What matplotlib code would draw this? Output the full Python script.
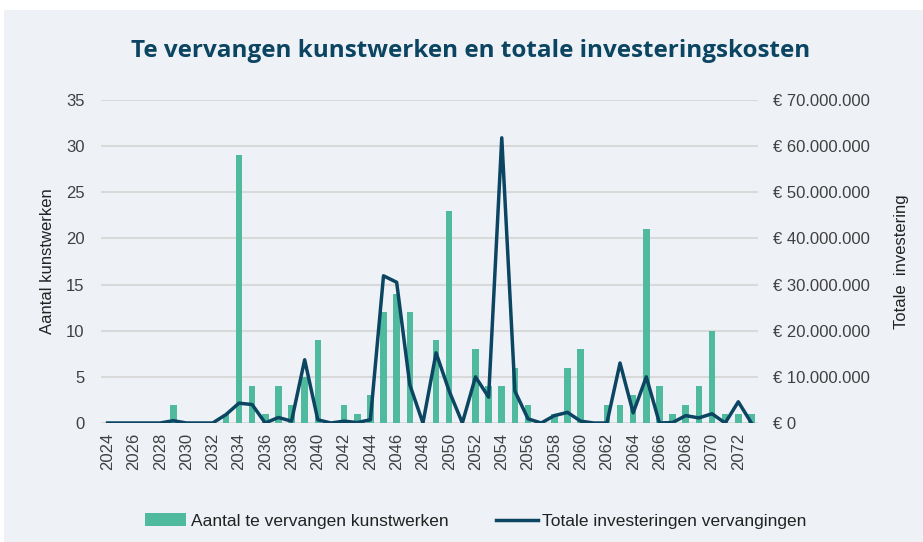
import matplotlib
matplotlib.use("Agg")
import matplotlib.pyplot as plt
from matplotlib.patches import Rectangle
from matplotlib.ticker import FuncFormatter, MultipleLocator

years = list(range(2024, 2074))
aantal = [0, 0, 0, 0, 0, 2, 0, 0, 0, 1,
          29, 4, 1, 4, 2, 5, 9, 0, 2, 1,
          3, 12, 14, 12, 0, 9, 23, 0, 8, 4,
          4, 6, 2, 0, 1, 6, 8, 0, 2, 2,
          3, 21, 4, 1, 2, 4, 10, 1, 1, 1]
investering = [0, 0, 0, 0, 0, 0.5, 0, 0, 0, 1.8,
               4.3, 4.0, 0, 1.2, 0.4, 13.7, 0.7, 0, 0.4, 0.1,
               0.7, 31.9, 30.5, 8.3, 0, 15.2, 6.9, 0, 10.0, 5.6,
               61.8, 6.9, 0.9, 0, 1.6, 2.3, 0.4, 0, 0, 13.0,
               2.2, 10.0, 0, 0.1, 1.6, 1.1, 2.0, 0, 4.6, 0]
investering = [v * 1e6 for v in investering]

title = "Te vervangen kunstwerken en totale investeringskosten"
label_bar = "Aantal te vervangen kunstwerken"
label_line = "Totale investeringen vervangingen"

BG = "#EEF2F7"
BAR = "#4FBA9E"
LINE = "#0B4562"
TXT = "#404040"
GRID = "#D9D9D9"

plt.rcParams['font.family'] = ['Liberation Sans', 'DejaVu Sans']

fig = plt.figure(figsize=(9.23, 5.42), dpi=100)
fig.patch.set_facecolor("white")
fig.patches.append(Rectangle((4 / 923, 0), 1, 1 - 10 / 542, transform=fig.transFigure,
                             facecolor=BG, edgecolor="none", zorder=-10))

ax = fig.add_axes([101 / 923, 1 - 423 / 542, 657 / 923, 323 / 542])
ax.set_facecolor("none")
x = list(range(len(years)))
ax.bar(x, aantal, width=0.5, color=BAR, zorder=2, label=label_bar)
ax.set_ylim(0, 35)
ax.set_xlim(-0.5, len(years) - 0.5)
ax.yaxis.set_major_locator(MultipleLocator(5))
ax.grid(axis="y", color=GRID, linewidth=1.5, zorder=0)
ax.set_axisbelow(True)
for s in ax.spines.values():
    s.set_visible(False)
ax.set_xticks(x[::2])
ax.set_xticklabels([str(y) for y in years[::2]], rotation=90, fontsize=12, color=TXT,
                   family=['Liberation Sans Narrow', 'Liberation Sans', 'DejaVu Sans'])
ax.tick_params(axis="y", length=0, labelsize=12, colors=TXT, pad=12)
ax.tick_params(axis="x", length=0, colors=TXT, pad=7)
ax.set_ylabel("Aantal kunstwerken", fontsize=12, color="#222222", labelpad=8)

ax2 = ax.twinx()
ax2.plot(x, investering, color=LINE, linewidth=2.5, zorder=3, label=label_line)
ax2.set_ylim(0, 70e6)
ax2.yaxis.set_major_locator(MultipleLocator(10e6))
ax2.yaxis.set_major_formatter(FuncFormatter(
    lambda v, p: "€ 0" if v == 0 else "€ " + f"{int(round(v)):,}".replace(",", ".")))
ax2.tick_params(axis="y", length=0, labelsize=12, colors=TXT, pad=11)
for s in ax2.spines.values():
    s.set_visible(False)
ax2.set_ylabel("Totale  investering", fontsize=12, color="#222222", labelpad=17)

fig.text(0.51, 1 - 51 / 542, title, ha="center", va="center", fontsize=17.5,
         fontweight="bold", color=LINE, family=['Open Sans', 'DejaVu Sans'])

h1, l1 = ax.get_legend_handles_labels()
h2, l2 = ax2.get_legend_handles_labels()
fig.legend(h1 + h2, l1 + l2, loc="center", bbox_to_anchor=(475.5 / 923, 1 - 521 / 542),
           ncol=2, frameon=False, fontsize=12.5, handlelength=2.4, columnspacing=2.75,
           handletextpad=0.25, labelcolor="#222222")

fig.savefig("out.png", dpi=100, facecolor=fig.get_facecolor())
